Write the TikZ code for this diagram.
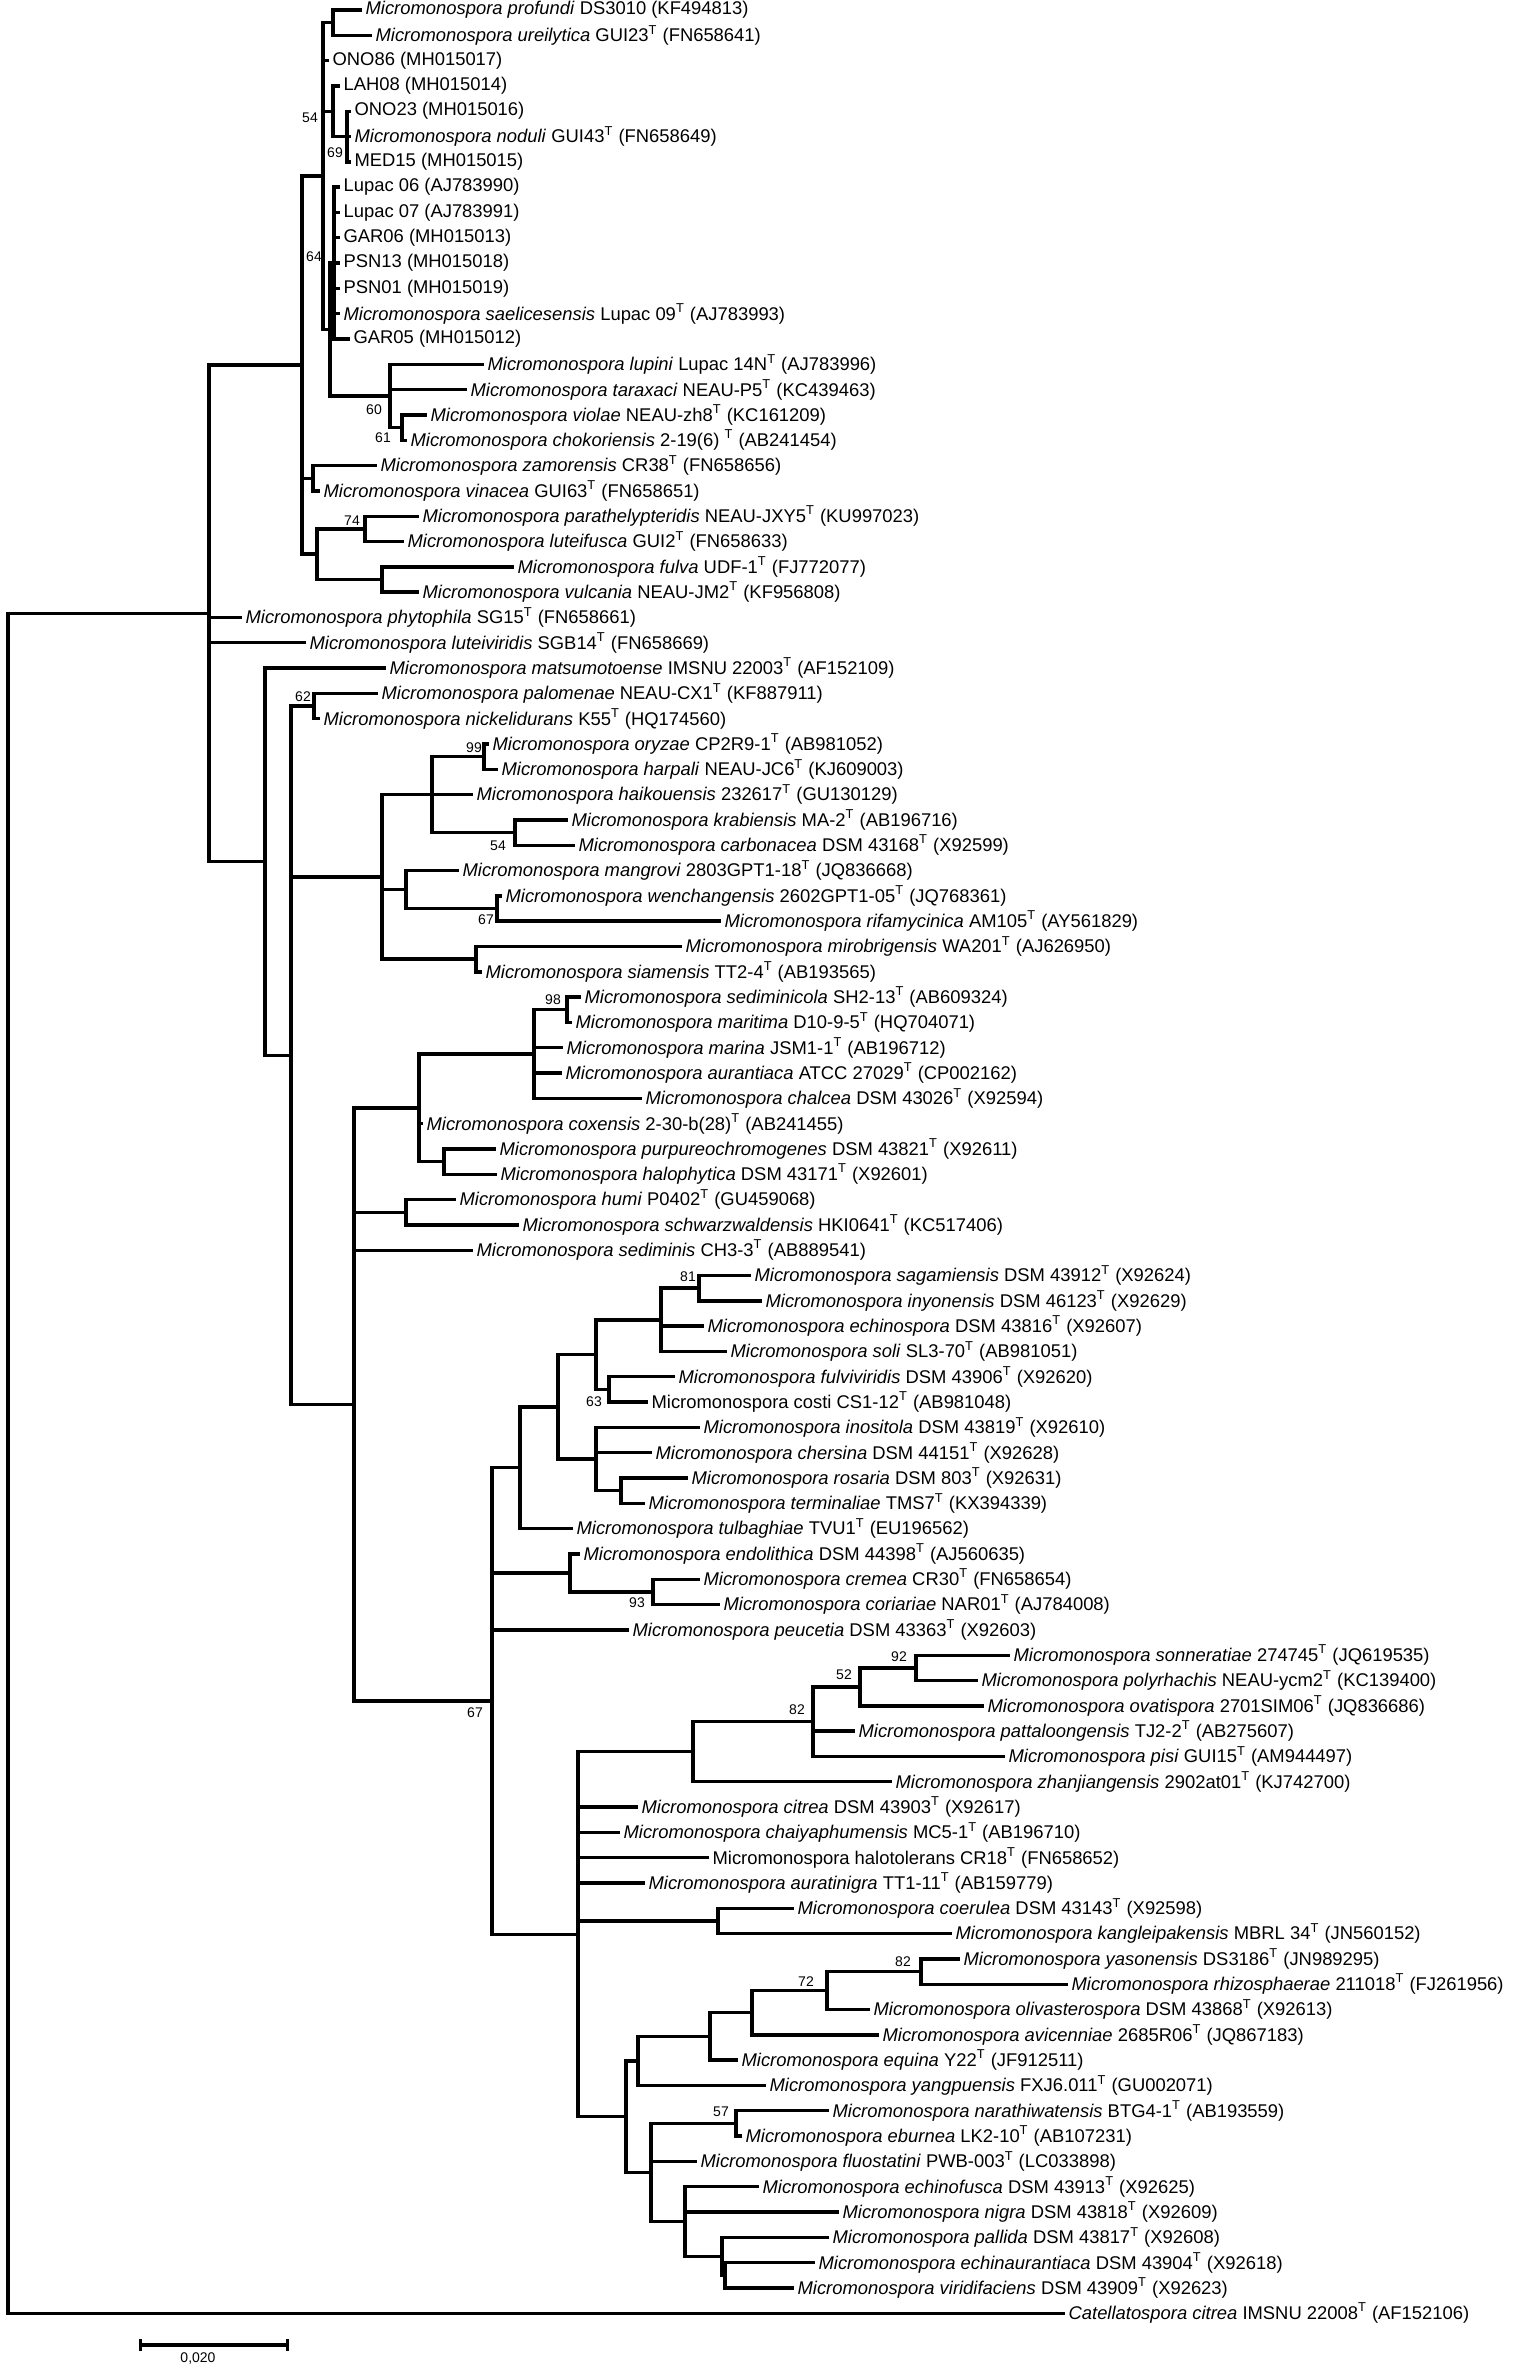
\documentclass[tikz,border=0pt]{standalone}
\usepackage{fontspec}
\setmainfont{Liberation Sans}
\usetikzlibrary{arrows.meta}

\newcommand{\mspp}[1]{\textit{Micromonospora #1}}
\newcommand{\Ts}{\textsuperscript{T}}

\tikzset{
  br/.style={line width=1.7pt, line cap=rect, line join=miter},
  leaf/.style={anchor=west, inner xsep=2.6pt, inner ysep=0pt, font=\fontsize{9.2}{11}\selectfont},
  boot/.style={inner sep=0pt, font=\fontsize{7}{8}\selectfont},
}

\begin{document}
\begin{tikzpicture}[x=0.5pt, y=-12.655pt]
    \useasboundingbox (0,0.605) rectangle (1512,94.40);

    \node[leaf] (profundi) at (360,1) {\mspp{profundi} DS3010 (KF494813)};
    \node[leaf] (ureilytica) at (370,2) {\mspp{ureilytica} GUI23\Ts{} (FN658641)};
    \node[leaf] (ono86) at (327,3) {ONO86 (MH015017)};
    \node[leaf] (lah08) at (338,4) {LAH08 (MH015014)};
    \node[leaf] (ono23) at (349,5) {ONO23 (MH015016)};
    \node[leaf] (noduli) at (349,6) {\mspp{noduli} GUI43\Ts{} (FN658649)};
    \node[leaf] (med15) at (349,7) {MED15 (MH015015)};
    \node[leaf] (lupac06) at (338,8) {Lupac 06 (AJ783990)};
    \node[leaf] (lupac07) at (338,9) {Lupac 07 (AJ783991)};
    \node[leaf] (gar06) at (338,10) {GAR06 (MH015013)};
    \node[leaf] (psn13) at (338,11) {PSN13 (MH015018)};
    \node[leaf] (psn01) at (338,12) {PSN01 (MH015019)};
    \node[leaf] (saelicesensis) at (338,13) {\mspp{saelicesensis} Lupac 09\Ts{} (AJ783993)};
    \node[leaf] (gar05) at (348,14) {GAR05 (MH015012)};
    \node[leaf] (lupini) at (482,15) {\mspp{lupini} Lupac 14N\Ts{} (AJ783996)};
    \node[leaf] (taraxaci) at (465,16) {\mspp{taraxaci} NEAU-P5\Ts{} (KC439463)};
    \node[leaf] (violae) at (425,17) {\mspp{violae} NEAU-zh8\Ts{} (KC161209)};
    \node[leaf] (chokoriensis) at (405,18) {\mspp{chokoriensis} 2-19(6) \Ts{} (AB241454)};
    \node[leaf] (zamorensis) at (375,19) {\mspp{zamorensis} CR38\Ts{} (FN658656)};
    \node[leaf] (vinacea) at (318,20) {\mspp{vinacea} GUI63\Ts{} (FN658651)};
    \node[leaf] (parathelypteridis) at (417,21) {\mspp{parathelypteridis} NEAU-JXY5\Ts{} (KU997023)};
    \node[leaf] (luteifusca) at (402,22) {\mspp{luteifusca} GUI2\Ts{} (FN658633)};
    \node[leaf] (fulva) at (512,23) {\mspp{fulva} UDF-1\Ts{} (FJ772077)};
    \node[leaf] (vulcania) at (417,24) {\mspp{vulcania} NEAU-JM2\Ts{} (KF956808)};
    \node[leaf] (phytophila) at (240,25) {\mspp{phytophila} SG15\Ts{} (FN658661)};
    \node[leaf] (luteiviridis) at (304,26) {\mspp{luteiviridis} SGB14\Ts{} (FN658669)};
    \node[leaf] (matsumotoense) at (384,27) {\mspp{matsumotoense} IMSNU 22003\Ts{} (AF152109)};
    \node[leaf] (palomenae) at (376,28) {\mspp{palomenae} NEAU-CX1\Ts{} (KF887911)};
    \node[leaf] (nickelidurans) at (318,29) {\mspp{nickelidurans} K55\Ts{} (HQ174560)};
    \node[leaf] (oryzae) at (487,30) {\mspp{oryzae} CP2R9-1\Ts{} (AB981052)};
    \node[leaf] (harpali) at (496,31) {\mspp{harpali} NEAU-JC6\Ts{} (KJ609003)};
    \node[leaf] (haikouensis) at (471,32) {\mspp{haikouensis} 232617\Ts{} (GU130129)};
    \node[leaf] (krabiensis) at (566,33) {\mspp{krabiensis} MA-2\Ts{} (AB196716)};
    \node[leaf] (carbonacea) at (573,34) {\mspp{carbonacea} DSM 43168\Ts{} (X92599)};
    \node[leaf] (mangrovi) at (457,35) {\mspp{mangrovi} 2803GPT1-18\Ts{} (JQ836668)};
    \node[leaf] (wenchangensis) at (500,36) {\mspp{wenchangensis} 2602GPT1-05\Ts{} (JQ768361)};
    \node[leaf] (rifamycinica) at (719,37) {\mspp{rifamycinica} AM105\Ts{} (AY561829)};
    \node[leaf] (mirobrigensis) at (680,38) {\mspp{mirobrigensis} WA201\Ts{} (AJ626950)};
    \node[leaf] (siamensis) at (480,39) {\mspp{siamensis} TT2-4\Ts{} (AB193565)};
    \node[leaf] (sediminicola) at (579,40) {\mspp{sediminicola} SH2-13\Ts{} (AB609324)};
    \node[leaf] (maritima) at (570,41) {\mspp{maritima} D10-9-5\Ts{} (HQ704071)};
    \node[leaf] (marina) at (561,42) {\mspp{marina} JSM1-1\Ts{} (AB196712)};
    \node[leaf] (aurantiaca) at (560,43) {\mspp{aurantiaca} ATCC 27029\Ts{} (CP002162)};
    \node[leaf] (chalcea) at (640,44) {\mspp{chalcea} DSM 43026\Ts{} (X92594)};
    \node[leaf] (coxensis) at (421,45) {\mspp{coxensis} 2-30-b(28)\Ts{} (AB241455)};
    \node[leaf] (purpureochromogenes) at (494,46) {\mspp{purpureochromogenes} DSM 43821\Ts{} (X92611)};
    \node[leaf] (halophytica) at (495,47) {\mspp{halophytica} DSM 43171\Ts{} (X92601)};
    \node[leaf] (humi) at (454,48) {\mspp{humi} P0402\Ts{} (GU459068)};
    \node[leaf] (schwarzwaldensis) at (517,49) {\mspp{schwarzwaldensis} HKI0641\Ts{} (KC517406)};
    \node[leaf] (sediminis) at (471,50) {\mspp{sediminis} CH3-3\Ts{} (AB889541)};
    \node[leaf] (sagamiensis) at (749,51) {\mspp{sagamiensis} DSM 43912\Ts{} (X92624)};
    \node[leaf] (inyonensis) at (760,52) {\mspp{inyonensis} DSM 46123\Ts{} (X92629)};
    \node[leaf] (echinospora) at (702,53) {\mspp{echinospora} DSM 43816\Ts{} (X92607)};
    \node[leaf] (soli) at (725,54) {\mspp{soli} SL3-70\Ts{} (AB981051)};
    \node[leaf] (fulviviridis) at (673,55) {\mspp{fulviviridis} DSM 43906\Ts{} (X92620)};
    \node[leaf] (costi) at (646,56) {Micromonospora costi CS1-12\Ts{} (AB981048)};
    \node[leaf] (inositola) at (698,57) {\mspp{inositola} DSM 43819\Ts{} (X92610)};
    \node[leaf] (chersina) at (650,58) {\mspp{chersina} DSM 44151\Ts{} (X92628)};
    \node[leaf] (rosaria) at (686,59) {\mspp{rosaria} DSM 803\Ts{} (X92631)};
    \node[leaf] (terminaliae) at (643,60) {\mspp{terminaliae} TMS7\Ts{} (KX394339)};
    \node[leaf] (tulbaghiae) at (571,61) {\mspp{tulbaghiae} TVU1\Ts{} (EU196562)};
    \node[leaf] (endolithica) at (578,62) {\mspp{endolithica} DSM 44398\Ts{} (AJ560635)};
    \node[leaf] (cremea) at (698,63) {\mspp{cremea} CR30\Ts{} (FN658654)};
    \node[leaf] (coriariae) at (718,64) {\mspp{coriariae} NAR01\Ts{} (AJ784008)};
    \node[leaf] (peucetia) at (627,65) {\mspp{peucetia} DSM 43363\Ts{} (X92603)};
    \node[leaf] (sonneratiae) at (1008,66) {\mspp{sonneratiae} 274745\Ts{} (JQ619535)};
    \node[leaf] (polyrhachis) at (976,67) {\mspp{polyrhachis} NEAU-ycm2\Ts{} (KC139400)};
    \node[leaf] (ovatispora) at (982,68) {\mspp{ovatispora} 2701SIM06\Ts{} (JQ836686)};
    \node[leaf] (pattaloongensis) at (853,69) {\mspp{pattaloongensis} TJ2-2\Ts{} (AB275607)};
    \node[leaf] (pisi) at (1003,70) {\mspp{pisi} GUI15\Ts{} (AM944497)};
    \node[leaf] (zhanjiangensis) at (890,71) {\mspp{zhanjiangensis} 2902at01\Ts{} (KJ742700)};
    \node[leaf] (citrea) at (636,72) {\mspp{citrea} DSM 43903\Ts{} (X92617)};
    \node[leaf] (chaiyaphumensis) at (618,73) {\mspp{chaiyaphumensis} MC5-1\Ts{} (AB196710)};
    \node[leaf] (halotolerans) at (707,74) {Micromonospora halotolerans CR18\Ts{} (FN658652)};
    \node[leaf] (auratinigra) at (643,75) {\mspp{auratinigra} TT1-11\Ts{} (AB159779)};
    \node[leaf] (coerulea) at (792,76) {\mspp{coerulea} DSM 43143\Ts{} (X92598)};
    \node[leaf] (kangleipakensis) at (950,77) {\mspp{kangleipakensis} MBRL 34\Ts{} (JN560152)};
    \node[leaf] (yasonensis) at (958,78) {\mspp{yasonensis} DS3186\Ts{} (JN989295)};
    \node[leaf] (rhizosphaerae) at (1066,79) {\mspp{rhizosphaerae} 211018\Ts{} (FJ261956)};
    \node[leaf] (olivasterospora) at (868,80) {\mspp{olivasterospora} DSM 43868\Ts{} (X92613)};
    \node[leaf] (avicenniae) at (877,81) {\mspp{avicenniae} 2685R06\Ts{} (JQ867183)};
    \node[leaf] (equina) at (736,82) {\mspp{equina} Y22\Ts{} (JF912511)};
    \node[leaf] (yangpuensis) at (764,83) {\mspp{yangpuensis} FXJ6.011\Ts{} (GU002071)};
    \node[leaf] (narathiwatensis) at (827,84) {\mspp{narathiwatensis} BTG4-1\Ts{} (AB193559)};
    \node[leaf] (eburnea) at (740,85) {\mspp{eburnea} LK2-10\Ts{} (AB107231)};
    \node[leaf] (fluostatini) at (695,86) {\mspp{fluostatini} PWB-003\Ts{} (LC033898)};
    \node[leaf] (echinofusca) at (757,87) {\mspp{echinofusca} DSM 43913\Ts{} (X92625)};
    \node[leaf] (nigra) at (837,88) {\mspp{nigra} DSM 43818\Ts{} (X92609)};
    \node[leaf] (pallida) at (827,89) {\mspp{pallida} DSM 43817\Ts{} (X92608)};
    \node[leaf] (echinaurantiaca) at (813,90) {\mspp{echinaurantiaca} DSM 43904\Ts{} (X92618)};
    \node[leaf] (viridifaciens) at (792,91) {\mspp{viridifaciens} DSM 43909\Ts{} (X92623)};
    \node[leaf] (catellatospora) at (1063,92) {\textit{Catellatospora citrea} IMSNU 22008\Ts{} (AF152106)};

    \coordinate (root) at (8,58.42);
    \coordinate (b) at (209,24.84);
    \coordinate (c) at (302,15.031);
    \coordinate (d) at (323,7.563);
    \coordinate (pu) at (333,1.5);
    \coordinate (lah) at (333,5);
    \coordinate (ono) at (347,6);
    \coordinate (f) at (330,13.625);
    \coordinate (lup) at (334,11);
    \coordinate (l) at (390,16.25);
    \coordinate (vc) at (402,17.5);
    \coordinate (zv) at (313,19.5);
    \coordinate (e) at (317,22.5);
    \coordinate (pl) at (365,21.5);
    \coordinate (fv) at (382,23.5);
    \coordinate (g) at (265,34.648);
    \coordinate (pn) at (314,28.5);
    \coordinate (h) at (291,42.296);
    \coordinate (k) at (382,35.25);
    \coordinate (k1) at (432,32);
    \coordinate (oh) at (484,30.5);
    \coordinate (kc) at (515,33.5);
    \coordinate (k2) at (406,35.75);
    \coordinate (wr) at (497,36.5);
    \coordinate (k3) at (476,38.5);
    \coordinate (m) at (354,56.092);
    \coordinate (n) at (419,44.375);
    \coordinate (n1) at (534,42.25);
    \coordinate (sm) at (567,40.5);
    \coordinate (ph) at (444,46.5);
    \coordinate (hs) at (406,48.5);
    \coordinate (p) at (492,67.809);
    \coordinate (q) at (520,58.594);
    \coordinate (q1) at (558,56.188);
    \coordinate (q2) at (596,54.125);
    \coordinate (q4) at (661,52.75);
    \coordinate (si) at (699,51.5);
    \coordinate (fc) at (609,55.5);
    \coordinate (q3) at (596,58.25);
    \coordinate (rt) at (621,59.5);
    \coordinate (ec) at (570,62.75);
    \coordinate (cc) at (653,63.5);
    \coordinate (r) at (578,77.023);
    \coordinate (r1) at (693,69.813);
    \coordinate (r2) at (813,68.625);
    \coordinate (r3) at (860,67.25);
    \coordinate (sp) at (916,66.5);
    \coordinate (ck) at (718,76.5);
    \coordinate (s) at (626,84.234);
    \coordinate (s1) at (638,82.031);
    \coordinate (s3) at (710,81.063);
    \coordinate (s4) at (752,80.125);
    \coordinate (s5) at (827,79.25);
    \coordinate (yr) at (921,78.5);
    \coordinate (s2) at (651,86.438);
    \coordinate (ne) at (736,84.5);
    \coordinate (t) at (685,88.375);
    \coordinate (u) at (722,89.75);
    \coordinate (v) at (725,90.5);

    \draw[br] (root) |- (b) (root) |- (catellatospora.west);
    \draw[br] (b) |- (c) (b) |- (phytophila.west) (b) |- (luteiviridis.west) (b) |- (g);
    \draw[br] (c) |- (d) (c) |- (zv) (c) |- (e);
    \draw[br] (d) |- (pu) (d) |- (ono86.west) (d) |- (lah) (d) |- (f);
    \draw[br] (pu) |- (profundi.west) (pu) |- (ureilytica.west);
    \draw[br] (lah) |- (lah08.west) (lah) |- (ono);
    \draw[br] (ono) |- (ono23.west) (ono) |- (noduli.west) (ono) |- (med15.west);
    \draw[br] (f) |- (lup) (f) |- (l);
    \draw[br] (lup) |- (lupac06.west) (lup) |- (lupac07.west) (lup) |- (gar06.west) (lup) |- (psn13.west) (lup) |- (psn01.west) (lup) |- (saelicesensis.west) (lup) |- (gar05.west);
    \draw[br] (l) |- (lupini.west) (l) |- (taraxaci.west) (l) |- (vc);
    \draw[br] (vc) |- (violae.west) (vc) |- (chokoriensis.west);
    \draw[br] (zv) |- (zamorensis.west) (zv) |- (vinacea.west);
    \draw[br] (e) |- (pl) (e) |- (fv);
    \draw[br] (pl) |- (parathelypteridis.west) (pl) |- (luteifusca.west);
    \draw[br] (fv) |- (fulva.west) (fv) |- (vulcania.west);
    \draw[br] (g) |- (matsumotoense.west) (g) |- (h);
    \draw[br] (h) |- (pn) (h) |- (k) (h) |- (m);
    \draw[br] (pn) |- (palomenae.west) (pn) |- (nickelidurans.west);
    \draw[br] (k) |- (k1) (k) |- (k2) (k) |- (k3);
    \draw[br] (k1) |- (oh) (k1) |- (haikouensis.west) (k1) |- (kc);
    \draw[br] (oh) |- (oryzae.west) (oh) |- (harpali.west);
    \draw[br] (kc) |- (krabiensis.west) (kc) |- (carbonacea.west);
    \draw[br] (k2) |- (mangrovi.west) (k2) |- (wr);
    \draw[br] (wr) |- (wenchangensis.west) (wr) |- (rifamycinica.west);
    \draw[br] (k3) |- (mirobrigensis.west) (k3) |- (siamensis.west);
    \draw[br] (m) |- (n) (m) |- (hs) (m) |- (sediminis.west) (m) |- (p);
    \draw[br] (n) |- (n1) (n) |- (coxensis.west) (n) |- (ph);
    \draw[br] (n1) |- (sm) (n1) |- (marina.west) (n1) |- (aurantiaca.west) (n1) |- (chalcea.west);
    \draw[br] (sm) |- (sediminicola.west) (sm) |- (maritima.west);
    \draw[br] (ph) |- (purpureochromogenes.west) (ph) |- (halophytica.west);
    \draw[br] (hs) |- (humi.west) (hs) |- (schwarzwaldensis.west);
    \draw[br] (p) |- (q) (p) |- (ec) (p) |- (peucetia.west) (p) |- (r);
    \draw[br] (q) |- (q1) (q) |- (tulbaghiae.west);
    \draw[br] (q1) |- (q2) (q1) |- (q3);
    \draw[br] (q2) |- (q4) (q2) |- (fc);
    \draw[br] (q4) |- (si) (q4) |- (echinospora.west) (q4) |- (soli.west);
    \draw[br] (si) |- (sagamiensis.west) (si) |- (inyonensis.west);
    \draw[br] (fc) |- (fulviviridis.west) (fc) |- (costi.west);
    \draw[br] (q3) |- (inositola.west) (q3) |- (chersina.west) (q3) |- (rt);
    \draw[br] (rt) |- (rosaria.west) (rt) |- (terminaliae.west);
    \draw[br] (ec) |- (endolithica.west) (ec) |- (cc);
    \draw[br] (cc) |- (cremea.west) (cc) |- (coriariae.west);
    \draw[br] (r) |- (r1) (r) |- (citrea.west) (r) |- (chaiyaphumensis.west) (r) |- (halotolerans.west) (r) |- (auratinigra.west) (r) |- (ck) (r) |- (s);
    \draw[br] (r1) |- (r2) (r1) |- (zhanjiangensis.west);
    \draw[br] (r2) |- (r3) (r2) |- (pattaloongensis.west) (r2) |- (pisi.west);
    \draw[br] (r3) |- (sp) (r3) |- (ovatispora.west);
    \draw[br] (sp) |- (sonneratiae.west) (sp) |- (polyrhachis.west);
    \draw[br] (ck) |- (coerulea.west) (ck) |- (kangleipakensis.west);
    \draw[br] (s) |- (s1) (s) |- (s2);
    \draw[br] (s1) |- (s3) (s1) |- (yangpuensis.west);
    \draw[br] (s3) |- (s4) (s3) |- (equina.west);
    \draw[br] (s4) |- (s5) (s4) |- (avicenniae.west);
    \draw[br] (s5) |- (yr) (s5) |- (olivasterospora.west);
    \draw[br] (yr) |- (yasonensis.west) (yr) |- (rhizosphaerae.west);
    \draw[br] (s2) |- (ne) (s2) |- (fluostatini.west) (s2) |- (t);
    \draw[br] (ne) |- (narathiwatensis.west) (ne) |- (eburnea.west);
    \draw[br] (t) |- (echinofusca.west) (t) |- (nigra.west) (t) |- (u);
    \draw[br] (u) |- (pallida.west) (u) |- (v);
    \draw[br] (v) |- (echinaurantiaca.west) (v) |- (viridifaciens.west);

    \node[boot] (bs54a) at (310,5.27) {54};
    \node[boot] (bs69) at (335,6.65) {69};
    \node[boot] (bs64) at (314,10.76) {64};
    \node[boot] (bs60) at (374,16.80) {60};
    \node[boot] (bs61) at (383,17.91) {61};
    \node[boot] (bs74) at (352,21.19) {74};
    \node[boot] (bs62) at (303,28.14) {62};
    \node[boot] (bs99) at (474,30.16) {99};
    \node[boot] (bs54b) at (498,34.03) {54};
    \node[boot] (bs67a) at (486,36.95) {67};
    \node[boot] (bs98) at (553,40.11) {98};
    \node[boot] (bs81) at (688,51.06) {81};
    \node[boot] (bs63) at (594,56.00) {63};
    \node[boot] (bs93) at (637,63.94) {93};
    \node[boot] (bs67b) at (475,68.29) {67};
    \node[boot] (bs92) at (899,66.07) {92};
    \node[boot] (bs52) at (844,66.78) {52};
    \node[boot] (bs82a) at (797,68.14) {82};
    \node[boot] (bs82b) at (903,78.12) {82};
    \node[boot] (bs72) at (806,78.91) {72};
    \node[boot] (bs57) at (721,84.05) {57};

    \coordinate (barl) at (139,93.26);
    \coordinate (barr) at (289,93.26);
    \draw[br, line cap=butt, {Bar[width=6pt]}-{Bar[width=6pt]}] (barl) -- (barr);
    \node[boot] (barlabel) at (198,93.8) {0,020};

\end{tikzpicture}
\end{document}
